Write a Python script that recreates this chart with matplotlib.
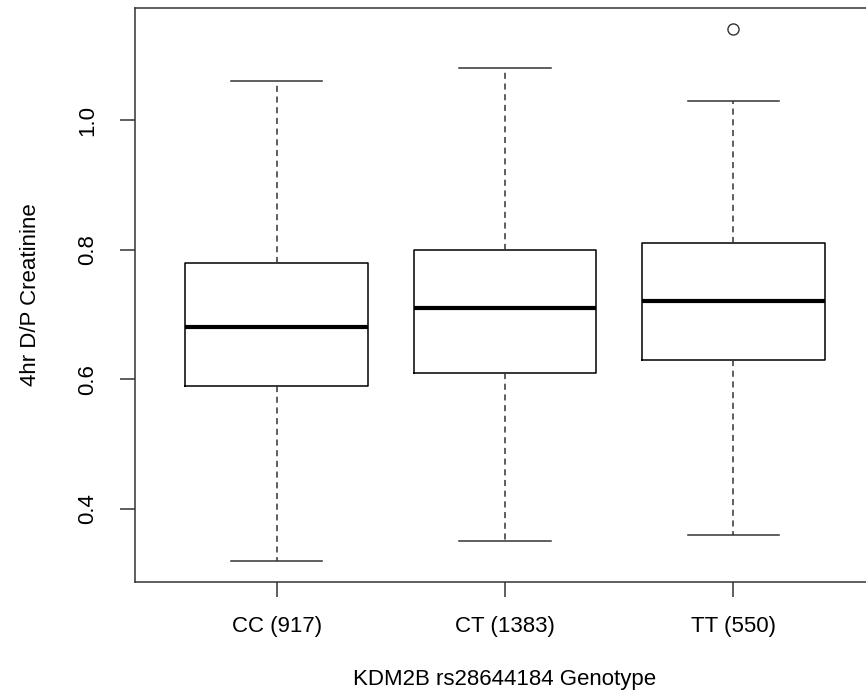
import matplotlib.pyplot as plt

plt.rcParams["font.family"] = ["Liberation Sans", "DejaVu Sans"]

labels = ["CC (917)", "CT (1383)", "TT (550)"]
whislo = [0.32, 0.35, 0.36]
q1 = [0.59, 0.61, 0.63]
med = [0.68, 0.71, 0.72]
q3 = [0.78, 0.80, 0.81]
whishi = [1.06, 1.08, 1.03]
fliers = [[], [], [1.14]]

stats = []
for i in range(len(labels)):
    stats.append({"label": labels[i], "whislo": whislo[i], "q1": q1[i],
                  "med": med[i], "q3": q3[i], "whishi": whishi[i],
                  "fliers": fliers[i]})

fig = plt.figure(figsize=(8.66, 6.96), dpi=100)
# right side of the plot box runs off the image, as in the original
ax = fig.add_axes([135 / 866, 114 / 696, 740 / 866, 574 / 696])

ax.bxp(stats, positions=[1, 2, 3], widths=0.8, capwidths=0.4,
       boxprops=dict(color="black", lw=1.1),
       whiskerprops=dict(color="#333333", lw=1.1, linestyle=(0, (4, 3))),
       capprops=dict(color="#333333", lw=1.1),
       medianprops=dict(color="black", lw=3),
       flierprops=dict(marker="o", markerfacecolor="none",
                       markeredgecolor="#333333", markersize=8, markeredgewidth=1))

ax.set_xlim(0.38, 3.62)
ax.set_ylim(0.287, 1.173)
ax.set_yticks([0.4, 0.6, 0.8, 1.0])
ax.set_yticklabels(["0.4", "0.6", "0.8", "1.0"], rotation=90, va="center")
ax.tick_params(length=10.5, width=1.1, labelsize=16, color="#333333")
ax.tick_params(axis="x", pad=14)
ax.tick_params(axis="y", pad=16)
for s in ax.spines.values():
    s.set_linewidth(1.1)
    s.set_color("#333333")

ax.set_xlabel("KDM2B rs28644184 Genotype", fontsize=16, va="center")
ax.set_ylabel("4hr D/P Creatinine", fontsize=16, va="center")
ax.xaxis.set_label_coords(0.5, (582 - 679) / 574)
ax.yaxis.set_label_coords((31 - 135) / 740, 0.5)

fig.savefig("out.png", dpi=100)
